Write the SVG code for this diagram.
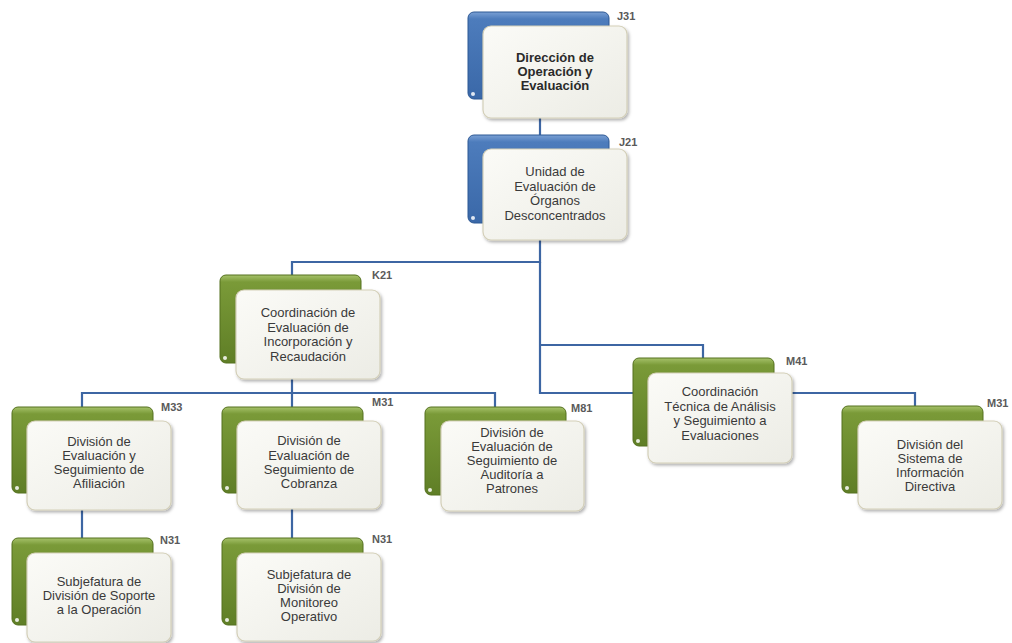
<svg xmlns="http://www.w3.org/2000/svg" width="1012" height="643" viewBox="0 0 1012 643">
<defs>
<linearGradient id="gb" x1="0" y1="0" x2="0" y2="1">
<stop offset="0" stop-color="#7aa0d4"/><stop offset="0.08" stop-color="#4d7cbc"/><stop offset="1" stop-color="#3a68a8"/>
</linearGradient>
<linearGradient id="gg" x1="0" y1="0" x2="0" y2="1">
<stop offset="0" stop-color="#a6c26a"/><stop offset="0.08" stop-color="#7a9a38"/><stop offset="1" stop-color="#5f7e26"/>
</linearGradient>
<linearGradient id="gf" x1="0" y1="0" x2="1" y2="1">
<stop offset="0" stop-color="#fbfbf7"/><stop offset="1" stop-color="#ecece5"/>
</linearGradient>
<filter id="sh" x="-10%" y="-10%" width="125%" height="130%">
<feDropShadow dx="1.5" dy="2" stdDeviation="1.5" flood-color="#000" flood-opacity="0.3"/>
</filter>
<style>
.cn{fill:none;stroke:#3d66a3;stroke-width:2.2}
.bb{fill:url(#gb);stroke:#2d5894;stroke-width:1}
.bg{fill:url(#gg);stroke:#54701e;stroke-width:1}
.dot{fill:#ffffff;opacity:0.85}
.fr{fill:url(#gf);stroke:#d3cfb8;stroke-width:1.2;filter:url(#sh)}
.t{font-family:"Liberation Sans",Arial,sans-serif;font-size:13px;fill:#3a3a3a;text-anchor:middle}
.tb{font-weight:bold;fill:#2a2a2a}
.lb{font-family:"Liberation Sans",Arial,sans-serif;font-size:11px;font-weight:bold;fill:#5a5a5a}
</style>
</defs>
<rect width="1012" height="643" fill="#ffffff"/>
<g id="connectors">
<path class="cn" d="M540 100 V135"/>
<path class="cn" d="M540 223 V262 H292 V275"/>
<path class="cn" d="M540 262 V393 H633"/>
<path class="cn" d="M540 345 H703 V358"/>
<path class="cn" d="M773 393 H915 V406"/>
<path class="cn" d="M292 363 V393"/>
<path class="cn" d="M82 407 V393 H495 V407"/>
<path class="cn" d="M292 393 V407" stroke="#c9a14a"/>
<path class="cn" d="M82 492 V538"/>
<path class="cn" d="M292 492 V538"/>
</g>
<g id="n-j31">
<rect class="bb" x="468" y="12" width="141" height="87" rx="6"/>
<circle class="dot" cx="473" cy="94" r="2"/>
<rect class="fr" x="483" y="26" width="144" height="92" rx="8"/>
<text class="t tb"><tspan x="555" y="62">Dirección de</tspan><tspan x="555" y="76">Operación y</tspan><tspan x="555" y="90">Evaluación</tspan></text>
<text class="lb" x="617" y="20">J31</text>
</g>
<g id="n-j21">
<rect class="bb" x="468" y="135" width="141" height="88" rx="6"/>
<circle class="dot" cx="473" cy="218" r="2"/>
<rect class="fr" x="483" y="149" width="144" height="91" rx="8"/>
<text class="t"><tspan x="555" y="176">Unidad de</tspan><tspan x="555" y="190.5">Evaluación de</tspan><tspan x="555" y="205">Órganos</tspan><tspan x="555" y="219.5">Desconcentrados</tspan></text>
<text class="lb" x="619" y="146">J21</text>
</g>
<g id="n-k21">
<rect class="bg" x="220" y="275" width="141" height="88" rx="6"/>
<circle class="dot" cx="225" cy="358" r="2"/>
<rect class="fr" x="236" y="290" width="144" height="89" rx="8"/>
<text class="t"><tspan x="308" y="317">Coordinación de</tspan><tspan x="308" y="331.5">Evaluación de</tspan><tspan x="308" y="346">Incorporación y</tspan><tspan x="308" y="360.5">Recaudación</tspan></text>
<text class="lb" x="372" y="279">K21</text>
</g>
<g id="n-m41">
<rect class="bg" x="633" y="358" width="141" height="88" rx="6"/>
<circle class="dot" cx="638" cy="441" r="2"/>
<rect class="fr" x="648" y="373" width="144" height="90" rx="8"/>
<text class="t"><tspan x="720" y="396">Coordinación</tspan><tspan x="720" y="410.5">Técnica de Análisis</tspan><tspan x="720" y="425">y Seguimiento a</tspan><tspan x="720" y="439.5">Evaluaciones</tspan></text>
<text class="lb" x="786" y="365">M41</text>
</g>
<g id="n-m33">
<rect class="bg" x="12" y="407" width="141" height="86" rx="6"/>
<circle class="dot" cx="17" cy="488" r="2"/>
<rect class="fr" x="27" y="421" width="144" height="89" rx="8"/>
<text class="t"><tspan x="99" y="446">División de</tspan><tspan x="99" y="460">Evaluación y</tspan><tspan x="99" y="474">Seguimiento de</tspan><tspan x="99" y="488">Afiliación</tspan></text>
<text class="lb" x="161" y="411">M33</text>
</g>
<g id="n-m31a">
<rect class="bg" x="222" y="407" width="141" height="86" rx="6"/>
<circle class="dot" cx="227" cy="488" r="2"/>
<rect class="fr" x="237" y="421" width="144" height="88" rx="8"/>
<text class="t"><tspan x="309" y="445">División de</tspan><tspan x="309" y="459.5">Evaluación de</tspan><tspan x="309" y="474">Seguimiento de</tspan><tspan x="309" y="488">Cobranza</tspan></text>
<text class="lb" x="372" y="406">M31</text>
</g>
<g id="n-m81">
<rect class="bg" x="425" y="407" width="141" height="88" rx="6"/>
<circle class="dot" cx="430" cy="490" r="2"/>
<rect class="fr" x="441" y="421" width="143" height="90" rx="8"/>
<text class="t"><tspan x="512" y="437">División de</tspan><tspan x="512" y="451">Evaluación de</tspan><tspan x="512" y="465">Seguimiento de</tspan><tspan x="512" y="479">Auditoría a</tspan><tspan x="512" y="493">Patrones</tspan></text>
<text class="lb" x="571" y="412">M81</text>
</g>
<g id="n-m31b">
<rect class="bg" x="842" y="406" width="141" height="87" rx="6"/>
<circle class="dot" cx="847" cy="488" r="2"/>
<rect class="fr" x="858" y="421" width="144" height="88" rx="8"/>
<text class="t"><tspan x="930" y="449">División del</tspan><tspan x="930" y="463">Sistema de</tspan><tspan x="930" y="477">Información</tspan><tspan x="930" y="491">Directiva</tspan></text>
<text class="lb" x="987" y="407">M31</text>
</g>
<g id="n-n31a">
<rect class="bg" x="12" y="538" width="141" height="87" rx="6"/>
<circle class="dot" cx="17" cy="620" r="2"/>
<rect class="fr" x="27" y="553" width="144" height="89" rx="8"/>
<text class="t"><tspan x="99" y="586">Subjefatura de</tspan><tspan x="99" y="600">División de Soporte</tspan><tspan x="99" y="614">a la Operación</tspan></text>
<text class="lb" x="160" y="544">N31</text>
</g>
<g id="n-n31b">
<rect class="bg" x="222" y="538" width="141" height="87" rx="6"/>
<circle class="dot" cx="227" cy="620" r="2"/>
<rect class="fr" x="237" y="553" width="144" height="88" rx="8"/>
<text class="t"><tspan x="309" y="579">Subjefatura de</tspan><tspan x="309" y="593">División de</tspan><tspan x="309" y="607">Monitoreo</tspan><tspan x="309" y="621">Operativo</tspan></text>
<text class="lb" x="372" y="543">N31</text>
</g>
</svg>
